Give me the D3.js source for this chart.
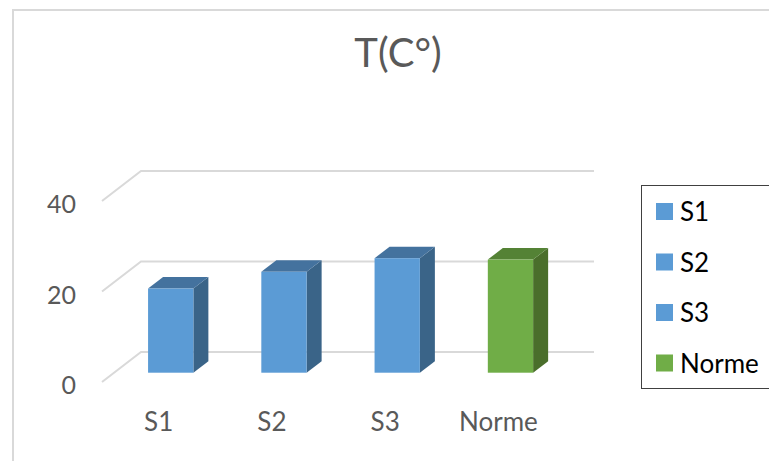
<!DOCTYPE html>
<html>
<head>
<meta charset="utf-8">
<script src="https://cdn.jsdelivr.net/npm/d3@7"></script>
<style>
  body { margin: 0; background: #fff; }
  svg { display: block; font-family: Lato, "Open Sans", sans-serif; }
</style>
</head>
<body>
<div id="chart"></div>
<script>
// data
var categories = ['S1', 'S2', 'S3', 'Norme'];
var values = [18.6, 22.3, 25.3, 25];
var yTicks = [0, 20, 40];
var legendNames = ['S1', 'S2', 'S3', 'Norme'];

var w = 769;
var h = 461;

// colors (front, top, side)
var blue = ['#5b9bd5', '#44729e', '#3a6488'];
var green = ['#70ad47', '#548235', '#4a6e2b'];
function colorsFor(name) {
  return name == 'Norme' ? green : blue;
}

var svg = d3.select('#chart')
  .append('svg')
  .attr('width', w)
  .attr('height', h);

// outer chart border
svg.append('path')
  .attr('d', 'M13,' + h + 'V10H' + w)
  .attr('fill', 'none')
  .attr('stroke', '#d9d9d9')
  .attr('stroke-width', 2);

// title
svg.append('text')
  .text('T(C°)')
  .attr('x', 398)
  .attr('y', 67)
  .attr('text-anchor', 'middle')
  .attr('font-size', '40px')
  .attr('fill', '#595959');

// scales on the front plane, depth vector goes to the back wall
var x = d3.scaleBand().domain(categories).range([102, 555]);
var y = d3.scaleLinear().domain([0, 40]).range([382, 201]);
var depthX = 39, depthY = -30;

// gridlines: side wall diagonal + back wall
var grid = svg.append('g');
yTicks.forEach(function(t) {
  grid.append('path')
    .attr('d', 'M' + x.range()[0] + ',' + y(t)
      + 'L' + (x.range()[0] + depthX) + ',' + (y(t) + depthY)
      + 'L' + (x.range()[1] + depthX) + ',' + (y(t) + depthY))
    .attr('fill', 'none')
    .attr('stroke', '#d9d9d9')
    .attr('stroke-width', 2);
});

// y tick labels
svg.selectAll('.ytick')
  .data(yTicks)
  .enter()
  .append('text')
  .attr('class', 'ytick')
  .text(function(d) { return d; })
  .attr('x', 76)
  .attr('y', function(d) { return y(d) + 12; })
  .attr('text-anchor', 'end')
  .attr('font-size', '25px')
  .attr('fill', '#595959');

// category labels
svg.selectAll('.xlab')
  .data(categories)
  .enter()
  .append('text')
  .attr('class', 'xlab')
  .text(function(d) { return d; })
  .attr('x', function(d) { return x(d) + x.bandwidth() / 2; })
  .attr('y', 431)
  .attr('text-anchor', 'middle')
  .attr('font-size', '26px')
  .attr('fill', '#595959');

// 3d bars: front face sits at 31% of depth, bar depth 38%
var f0 = 0.31, fd = 0.385;
var barW = x.bandwidth() * 0.4;
var bars = svg.selectAll('.bar')
  .data(categories)
  .enter()
  .append('g')
  .attr('class', 'bar');

bars.each(function(d, i) {
  var g = d3.select(this);
  var c = colorsFor(d);
  var x0 = x(d) + (x.bandwidth() - barW) / 2 + depthX * f0;
  var x1 = x0 + barW;
  var yb = y(0) + depthY * f0;
  var yt = y(values[i]) + depthY * f0;
  var dx = depthX * fd, dy = depthY * fd;

  // side
  g.append('path')
    .attr('d', 'M' + x1 + ',' + yt + 'L' + (x1 + dx) + ',' + (yt + dy)
      + 'L' + (x1 + dx) + ',' + (yb + dy) + 'L' + x1 + ',' + yb + 'Z')
    .attr('fill', c[2]);
  // top
  g.append('path')
    .attr('d', 'M' + x0 + ',' + yt + 'L' + x1 + ',' + yt
      + 'L' + (x1 + dx) + ',' + (yt + dy) + 'L' + (x0 + dx) + ',' + (yt + dy) + 'Z')
    .attr('fill', c[1]);
  // front
  g.append('rect')
    .attr('x', x0)
    .attr('y', yt)
    .attr('width', barW)
    .attr('height', yb - yt)
    .attr('fill', c[0]);
});

// legend
var legend = svg.append('g');
legend.append('rect')
  .attr('x', 641.5)
  .attr('y', 185.5)
  .attr('width', 140)
  .attr('height', 203)
  .attr('fill', '#fff')
  .attr('stroke', '#404040')
  .attr('stroke-width', 1);

for (var i = 0; i < legendNames.length; i++) {
  legend.append('rect')
    .attr('x', 656)
    .attr('y', 203 + i * 50.5)
    .attr('width', 17)
    .attr('height', 17)
    .attr('fill', colorsFor(legendNames[i])[0]);
  legend.append('text')
    .text(legendNames[i])
    .attr('x', 680)
    .attr('y', 221 + i * 50.5)
    .attr('font-size', '26px')
    .attr('fill', '#000');
}
</script>
</body>
</html>
